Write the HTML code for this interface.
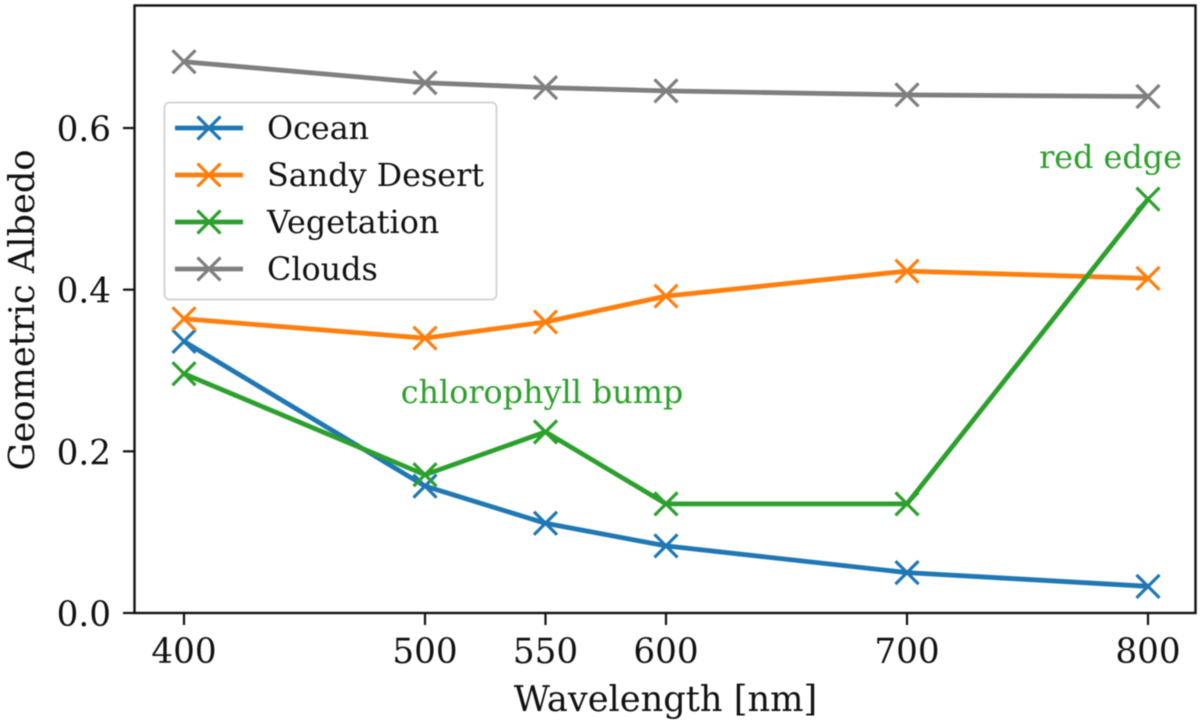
<!DOCTYPE html>
<html>
<head>
<meta charset="utf-8">
<style>
html,body{margin:0;padding:0;background:#fff;width:1200px;height:726px;overflow:hidden}
svg{display:block;filter:blur(0.45px)}
text{font-family:"DejaVu Serif",serif;fill:#111}
</style>
</head>
<body>
<svg id="chart" xmlns="http://www.w3.org/2000/svg" width="1200" height="726" viewBox="0 0 1200 726">
  <g id="series-layer"></g>
  <rect x="134.5" y="5.5" width="1061" height="607.5" fill="none" stroke="#111" stroke-width="2.4"/>
  <g id="ticks-layer"></g>
  <text x="665.5" y="711" font-size="35.2" text-anchor="middle">Wavelength [nm]</text>
  <text transform="translate(34,310) rotate(-90)" font-size="35.2" text-anchor="middle">Geometric Albedo</text>
  <text x="542" y="403" font-size="31.8" text-anchor="middle" style="fill:#2ca02c">chlorophyll bump</text>
  <text x="1110.5" y="168" font-size="31.8" text-anchor="middle" style="fill:#2ca02c">red edge</text>
  <g id="legend">
    <rect x="164.5" y="102.5" width="332" height="197" rx="5" fill="#fff" fill-opacity="0.9" stroke="#d6d6d6" stroke-width="2"/>
  </g>
</svg>
<script>
const wavelengths = [400, 500, 550, 600, 700, 800];
const ocean = [0.336, 0.157, 0.111, 0.083, 0.050, 0.033];
const sandyDesert = [0.364, 0.340, 0.360, 0.392, 0.423, 0.414];
const vegetation = [0.296, 0.171, 0.224, 0.135, 0.135, 0.512];
const clouds = [0.682, 0.656, 0.650, 0.646, 0.641, 0.639];
const seriesNames = ["Ocean", "Sandy Desert", "Vegetation", "Clouds"];
const seriesColors = ["#1f77b4", "#ff7f0e", "#2ca02c", "#7f7f7f"];
const xTicks = ["400", "500", "550", "600", "700", "800"];
const yTicks = ["0.0", "0.2", "0.4", "0.6"];

const NS = "http://www.w3.org/2000/svg";
const xScale = v => 184 + (v - 400) * 2.41;
const yScale = v => 613 - v * 808.3;

function make(tag, attrs, parent) {
  const el = document.createElementNS(NS, tag);
  for (const k in attrs) el.setAttribute(k, attrs[k]);
  parent.appendChild(el);
  return el;
}

function cross(cx, cy, color, parent) {
  const r = 11.5;
  const p = make("path", {
    d: `M${cx - r} ${cy - r}L${cx + r} ${cy + r}M${cx - r} ${cy + r}L${cx + r} ${cy - r}`,
    stroke: color, "stroke-width": 3.2, fill: "none", "stroke-linecap": "butt"
  }, parent);
  
  
}

const seriesLayer = document.getElementById("series-layer");
const allSeries = [ocean, sandyDesert, vegetation, clouds];
allSeries.forEach((vals, i) => {
  const g = make("g", {}, seriesLayer);
  
  
  const pts = vals.map((v, j) => xScale(wavelengths[j]) + "," + yScale(v)).join(" ");
  const line = make("polyline", {
    points: pts, fill: "none", stroke: seriesColors[i], "stroke-width": 4.8, "stroke-linejoin": "round"
  }, g);
  
  
  vals.forEach((v, j) => cross(xScale(wavelengths[j]), yScale(v), seriesColors[i], g));
});

const ticksLayer = document.getElementById("ticks-layer");
xTicks.forEach(t => {
  const x = xScale(+t);
  const tick = make("line", { x1: x, x2: x, y1: 613, y2: 625, stroke: "#111", "stroke-width": 2.2 }, ticksLayer);
  
  
  const label = make("text", { x: x, y: 663, "font-size": 34.2, "text-anchor": "middle" }, ticksLayer);
  label.textContent = t;
  
  
});
yTicks.forEach(t => {
  const y = yScale(+t);
  const tick = make("line", { x1: 123, x2: 134.5, y1: y, y2: y, stroke: "#111", "stroke-width": 2.2 }, ticksLayer);
  
  
  const label = make("text", { x: 111, y: y + 13, "font-size": 34.2, "text-anchor": "end" }, ticksLayer);
  label.textContent = t;
  
  
});

const legend = document.getElementById("legend");
seriesNames.forEach((name, i) => {
  const y = 128 + i * 47;
  const g = make("g", {}, legend);
  
  
  const ln = make("line", { x1: 175, x2: 243, y1: y, y2: y, stroke: seriesColors[i], "stroke-width": 4.8 }, g);
  
  
  cross(209, y, seriesColors[i], g);
  const label = make("text", { x: 267, y: y + 11, "font-size": 31.8 }, g);
  label.textContent = name;
  
  
});
</script>
</body>
</html>
